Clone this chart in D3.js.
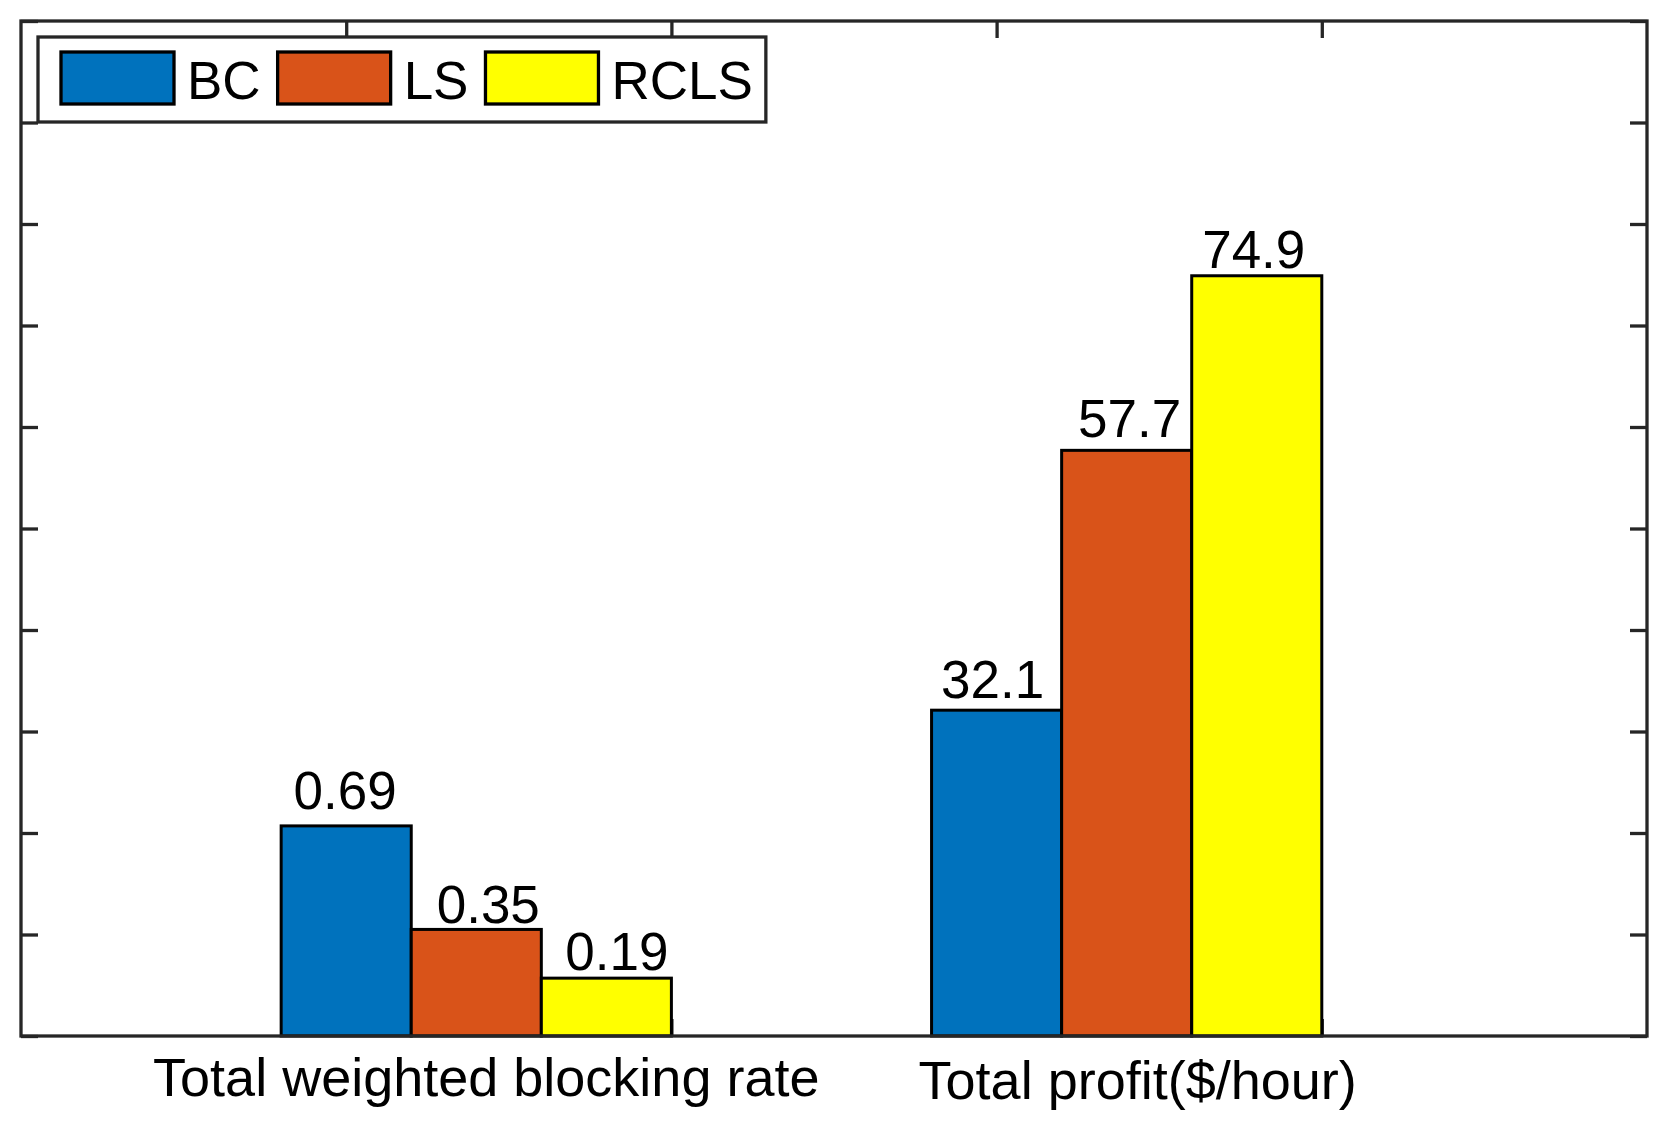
<!DOCTYPE html>
<html>
<head>
<meta charset="utf-8">
<script src="https://cdn.jsdelivr.net/npm/d3@7"></script>
<style>
  html, body { margin: 0; padding: 0; background: #ffffff; }
  svg { display: block; }
  text { font-family: "Liberation Sans", Arial, Helvetica, sans-serif; }
</style>
</head>
<body>
<svg id="chart" width="1666" height="1125"></svg>
<script>
// ---------------- data ----------------
const categories = ["Total weighted blocking rate", "Total profit($/hour)"];
const seriesNames = ["BC", "LS", "RCLS"];
const bcValues   = [0.69, 32.1];
const lsValues   = [0.35, 57.7];
const rclsValues = [0.19, 74.9];
// the blocking rate is drawn multiplied by 30 on the shared (unlabelled) axis
const groupScale = [30, 1];
const groupPositions = [1, 3];
const xTickValues = [1, 2, 3, 4];
const yTickValues = [0, 10, 20, 30, 40, 50, 60, 70, 80, 90, 100];

// ---------------- styling ----------------
const colors = ["#0072BD", "#D95319", "#FFFF00"];
const axisColor = "#262626";
const fontSize = 53;
const catFontSize = 54;
// small manual nudges of the value labels (px), as in the original figure
const labelDx = [[-1, 12, 10.5], [-4, 3, -3]];
const labelGap = [[17, 6, 8.5], [12, 13, 8]];
const catDx = [10, 11];
const catBaseline = [1096, 1099];

const W = 1666, H = 1125;
const plot = { left: 21, right: 1647, top: 21, bottom: 1036 };

const svg = d3.select("#chart");
svg.append("rect").attr("width", W).attr("height", H).attr("fill", "#fff");

const x = d3.scaleLinear().domain([0, 5]).range([plot.left, plot.right]);
const y = d3.scaleLinear().domain([0, 100]).range([plot.bottom, plot.top]);

const seriesValues = [bcValues, lsValues, rclsValues];
const barW = 0.4;

// ---------------- ticks (drawn under bars) ----------------
const tickLen = 17;
const tickG = svg.append("g");
const axL = d3.axisLeft(y).tickValues(yTickValues).tickSize(-tickLen).tickFormat("");
const axR = d3.axisRight(y).tickValues(yTickValues).tickSize(-tickLen).tickFormat("");
const axT = d3.axisTop(x).tickValues(xTickValues).tickSize(-tickLen).tickFormat("");
const axB = d3.axisBottom(x).tickValues(xTickValues).tickSize(-tickLen).tickFormat("");
[[axL, `translate(${plot.left},0)`], [axR, `translate(${plot.right},0)`],
 [axT, `translate(0,${plot.top})`], [axB, `translate(0,${plot.bottom})`]].forEach(([ax, tr]) => {
  const g = tickG.append("g").attr("transform", tr).call(ax);
  g.select(".domain").remove();
  g.selectAll(".tick line").attr("stroke", axisColor).attr("stroke-width", 3.3);
});

// ---------------- bars ----------------
const bars = [];
seriesValues.forEach((vals, s) => {
  vals.forEach((v, g) => {
    const x0 = groupPositions[g] - barW / 2 + barW * s;
    bars.push({ s, g, v, plotted: v * groupScale[g], x0 });
  });
});

svg.append("g").selectAll("rect").data(bars).join("rect")
  .attr("x", d => x(d.x0))
  .attr("width", d => x(d.x0 + barW) - x(d.x0))
  .attr("y", d => y(d.plotted))
  .attr("height", d => y(0) - y(d.plotted))
  .attr("fill", d => colors[d.s])
  .attr("stroke", "#000")
  .attr("stroke-width", 3);

// value labels
svg.append("g").selectAll("text").data(bars).join("text")
  .attr("x", d => x(d.x0 + barW / 2) + labelDx[d.g][d.s])
  .attr("y", d => y(d.plotted) - labelGap[d.g][d.s])
  .attr("text-anchor", "middle")
  .attr("font-size", fontSize)
  .attr("fill", "#000")
  .text(d => String(d.v));

// ---------------- axes box ----------------
svg.append("rect")
  .attr("x", plot.left).attr("y", plot.top)
  .attr("width", plot.right - plot.left).attr("height", plot.bottom - plot.top)
  .attr("fill", "none").attr("stroke", axisColor).attr("stroke-width", 3.3);

// category labels under the axis
svg.append("g").selectAll("text").data(categories).join("text")
  .attr("x", (d, i) => x(groupPositions[i] + barW) + catDx[i])
  .attr("y", (d, i) => catBaseline[i])
  .attr("text-anchor", "middle")
  .attr("font-size", catFontSize)
  .attr("fill", "#000")
  .text(d => d);

// ---------------- legend ----------------
const leg = { left: 38, top: 37, bottom: 122, padL: 23, patchW: 113, patchH: 52, textGap: 13, itemGap: 17, padR: 13 };
const legG = svg.append("g");
const legBox = legG.append("rect")
  .attr("x", leg.left).attr("y", leg.top)
  .attr("height", leg.bottom - leg.top)
  .attr("fill", "#fff").attr("stroke", axisColor).attr("stroke-width", 3.3);

let cx = leg.left + leg.padL;
const patchY = (leg.top + leg.bottom) / 2 - leg.patchH / 2 - 1.5;
seriesNames.forEach((name, i) => {
  legG.append("rect")
    .attr("x", cx).attr("y", patchY)
    .attr("width", leg.patchW).attr("height", leg.patchH)
    .attr("fill", colors[i]).attr("stroke", "#000").attr("stroke-width", 3.3);
  cx += leg.patchW + leg.textGap;
  const t = legG.append("text")
    .attr("x", cx).attr("y", 99)
    .attr("font-size", fontSize).attr("fill", "#000")
    .text(name);
  cx += t.node().getComputedTextLength();
  if (i < seriesNames.length - 1) cx += leg.itemGap;
});
legBox.attr("width", cx + leg.padR - leg.left);
</script>
</body>
</html>
